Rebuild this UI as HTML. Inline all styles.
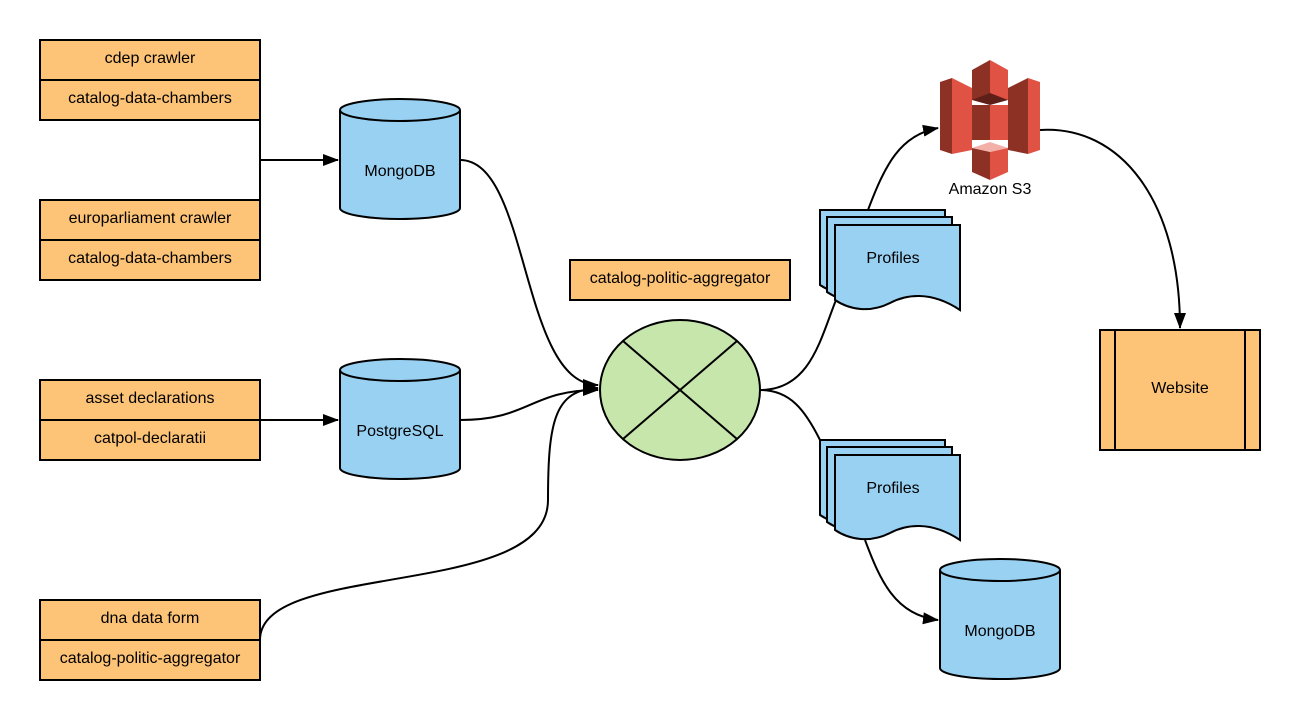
<!DOCTYPE html>
<html><head><meta charset="utf-8"><style>
html,body{margin:0;padding:0;background:#fff}
text{font-family:"Liberation Sans",sans-serif;font-size:16px;fill:#000}
</style></head><body>
<svg width="1300" height="720" viewBox="0 0 1300 720" xmlns="http://www.w3.org/2000/svg">
<defs>
<marker id="a" markerWidth="16" markerHeight="12" refX="15" refY="6" orient="auto" markerUnits="userSpaceOnUse">
<path d="M0,0 L16,6 L0,12 z" fill="#000"/></marker>
<g id="doc"><path d="M0,0 H125 V85 C95,65 70,70 55,78 C35,88 15,85 0,75 Z" fill="#99d1f3" stroke="#000" stroke-width="2"/></g>
</defs>
<g stroke="#000" stroke-width="2" fill="#fdc377">
<rect x="40" y="40" width="220" height="80"/><line x1="40" y1="80" x2="260" y2="80"/>
<rect x="40" y="200" width="220" height="80"/><line x1="40" y1="240" x2="260" y2="240"/>
<rect x="40" y="380" width="220" height="80"/><line x1="40" y1="420" x2="260" y2="420"/>
<rect x="40" y="600" width="220" height="80"/><line x1="40" y1="640" x2="260" y2="640"/>
<rect x="570" y="260" width="220" height="40"/>
<rect x="1100" y="330" width="160" height="120"/><line x1="1115" y1="330" x2="1115" y2="450"/><line x1="1245" y1="330" x2="1245" y2="450"/>
</g>
<g text-anchor="middle">
<text x="150" y="63">cdep crawler</text><text x="150" y="103">catalog-data-chambers</text>
<text x="150" y="223">europarliament crawler</text><text x="150" y="263">catalog-data-chambers</text>
<text x="150" y="403">asset declarations</text><text x="150" y="443">catpol-declaratii</text>
<text x="150" y="623">dna data form</text><text x="150" y="663">catalog-politic-aggregator</text>
<text x="680" y="283">catalog-politic-aggregator</text>
<text x="1180" y="393">Website</text>
</g>
<g stroke="#000" stroke-width="2" fill="#99d1f3">
<path d="M340,110 V208 A60,11 0 0 0 460,208 V110"/><ellipse cx="400" cy="110" rx="60" ry="11"/>
<path d="M340,370 V468 A60,11 0 0 0 460,468 V370"/><ellipse cx="400" cy="370" rx="60" ry="11"/>
<path d="M940,570 V668 A60,11 0 0 0 1060,668 V570"/><ellipse cx="1000" cy="570" rx="60" ry="11"/>
</g>
<g text-anchor="middle">
<text x="400" y="176">MongoDB</text><text x="400" y="436">PostgreSQL</text><text x="1000" y="636">MongoDB</text>
</g>
<ellipse cx="680" cy="390" rx="80" ry="70" fill="#c7e6ab" stroke="#000" stroke-width="2"/>
<line x1="623" y1="341" x2="737" y2="439" stroke="#000" stroke-width="2"/>
<line x1="737" y1="341" x2="623" y2="439" stroke="#000" stroke-width="2"/>
<use href="#doc" x="820" y="210"/><use href="#doc" x="827" y="217"/><use href="#doc" x="835" y="225"/>
<use href="#doc" x="820" y="440"/><use href="#doc" x="827" y="447"/><use href="#doc" x="835" y="455"/>
<text x="893" y="263" text-anchor="middle">Profiles</text>
<text x="893" y="493" text-anchor="middle">Profiles</text>
<g>
<polygon points="940,82 952,78 952,154 940,150" fill="#8c3124"/>
<polygon points="952,78 972,88 972,150 952,154" fill="#e05243"/>
<polygon points="1040,82 1028,78 1028,154 1040,150" fill="#e05243"/>
<polygon points="1028,78 1008,88 1008,150 1028,154" fill="#8c3124"/>
<polygon points="972,70 990,60 990,100 972,100" fill="#8c3124"/>
<polygon points="990,60 1008,70 1008,100 990,100" fill="#e05243"/>
<polygon points="972,100 990,93 1008,100 990,105" fill="#5e1f18"/>
<polygon points="972,105 990,105 990,140 972,140" fill="#8c3124"/>
<polygon points="990,105 1008,105 1008,140 990,140" fill="#e05243"/>
<polygon points="972,148 990,142 1008,148 990,152" fill="#f2b0a9"/>
<polygon points="972,148 990,152 990,180 972,172" fill="#8c3124"/>
<polygon points="990,152 1008,148 1008,172 990,180" fill="#e05243"/>
</g>
<text x="990" y="194" text-anchor="middle">Amazon S3</text>
<g fill="none" stroke="#000" stroke-width="2">
<path d="M260,120 V200"/>
<path d="M260,160 H338" marker-end="url(#a)"/>
<path d="M260,420 H338" marker-end="url(#a)"/>
<path d="M460,160 C530,160 520,385 598,385" marker-end="url(#a)"/>
<path d="M460,420 C530,420 530,390 598,390" marker-end="url(#a)"/>
<path d="M260,640 C260,560 548,600 548,500 C548,420 555,390 598,388" marker-end="url(#a)"/>
<path d="M760,390 C810,390 820,340 836,300"/>
<path d="M868,210 C885,165 900,135 938,128" marker-end="url(#a)"/>
<path d="M760,390 C790,390 805,410 820,440"/>
<path d="M865,540 C880,580 895,615 938,620" marker-end="url(#a)"/>
<path d="M1040,130 C1120,125 1180,200 1180,328" marker-end="url(#a)"/>
</g>
</svg>
</body></html>
